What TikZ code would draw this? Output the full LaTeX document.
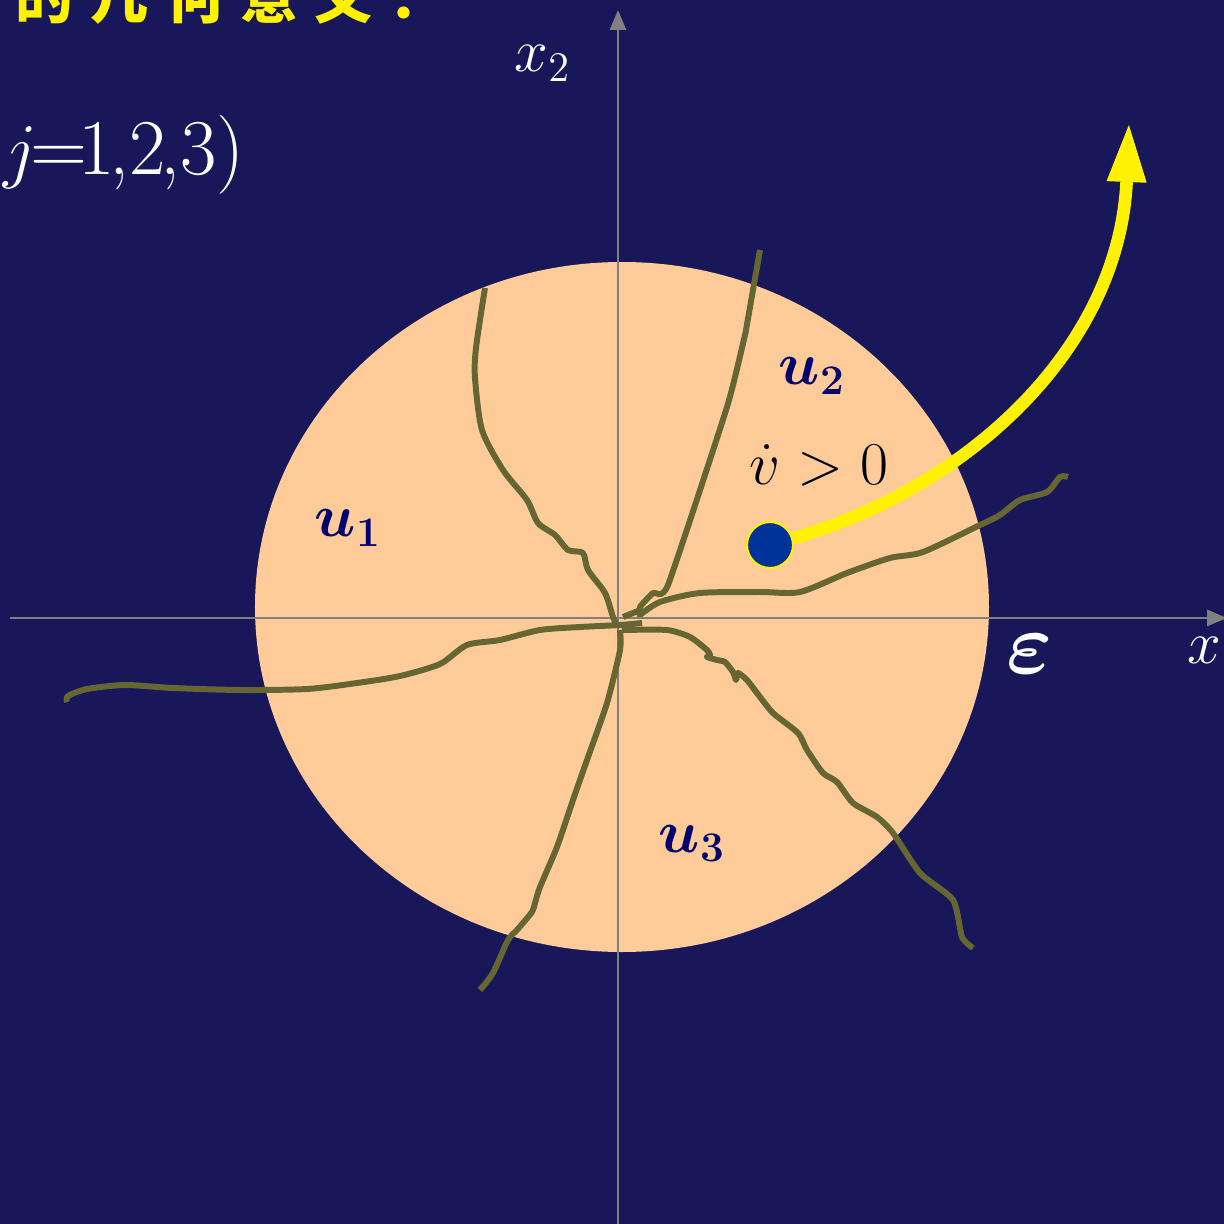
\documentclass[tikz,border=0pt]{standalone}
\usepackage{fontspec}
\usepackage{bm}
\newfontfamily\cjk{Noto Sans CJK SC}[LetterSpace=29]
\definecolor{slidebg}{RGB}{23,23,90}
\definecolor{peach}{RGB}{255,204,153}
\definecolor{trajolive}{RGB}{102,102,51}
\definecolor{labnavy}{RGB}{0,0,110}
\definecolor{dotblue}{RGB}{0,51,153}
\usetikzlibrary{arrows.meta}
\tikzset{
	axisline/.style={draw=gray, line width=0.8pt, -{Triangle[length=2mm, width=1.6mm]}},
	traj/.style={draw=trajolive, line width=1.7pt, line join=round},
	ulabel/.style={text=labnavy, font=\fontsize{17}{20}\selectfont, inner sep=0pt, anchor=base west},
	axlabel/.style={text=white, font=\fontsize{17}{20}\selectfont, inner sep=0pt, anchor=base west},
	flowarrow/.style={draw=yellow, line width=3.6pt, -{Triangle[length=6mm, width=3.6mm]}},
	statedot/.style={circle, fill=dotblue, draw=yellow, line width=0.6pt, minimum size=4.6mm, inner sep=0pt},
}

\begin{document}
\begin{tikzpicture}
	% slide background and region
	\fill[slidebg] (-6.18,-6.06) rectangle (6.06,6.18);
	\useasboundingbox (-6.18,-6.06) rectangle (6.06,6.18);
	\fill[peach] (0.04,0.11) ellipse [x radius=3.67cm, y radius=3.45cm];

	% axes
	\coordinate (xstart) at (-6.08,0);
	\coordinate (xend) at (6.09,0);
	\coordinate (ystart) at (0,-6.10);
	\coordinate (yend) at (0,6.08);
	\draw[axisline] (xstart) -- (xend);
	\draw[axisline] (ystart) -- (yend);

	% trajectories
	\draw[traj] plot[smooth, tension=0.45] coordinates {(-1.33,3.30) (-1.42,2.70) (-1.43,2.40) (-1.36,1.88) (-1.15,1.48) (-0.91,1.18) (-0.80,0.95) (-0.63,0.83) (-0.50,0.68) (-0.35,0.65) (-0.30,0.48) (-0.13,0.25) (-0.05,0.01) (0,-0.09)};
	\draw[traj] plot[smooth, tension=0.3] coordinates {(1.42,3.68) (1.28,2.88) (1.27,2.83) (1.09,2.11) (0.50,0.33) (0.35,0.25) (0.22,0.11) (0.22,0.01)};
	\draw[traj] (0.05,0.01) -- (0.20,0.07);
	\draw[traj] plot[smooth, tension=0.45] coordinates {(0.22,0.03) (0.42,0.16) (0.82,0.25) (1.42,0.26) (1.82,0.26) (2.29,0.45) (2.72,0.60) (3.05,0.66) (3.62,0.93) (3.82,1.03) (4.02,1.18) (4.29,1.26) (4.42,1.41) (4.50,1.41)};
	\draw[traj] plot[smooth, tension=0.45] coordinates {(-5.51,-0.84) (-5.50,-0.78) (-5.31,-0.71) (-4.93,-0.67) (-4.45,-0.70) (-3.78,-0.72) (-3.11,-0.71) (-2.61,-0.65) (-2.18,-0.58) (-1.78,-0.46) (-1.51,-0.27) (-1.18,-0.22) (-0.78,-0.12) (-0.38,-0.09) (0.02,-0.07) (0.24,-0.05)};
	\draw[traj] plot[smooth, tension=0.4] coordinates {(0.02,-0.12) (0.02,-0.32) (-0.11,-0.85) (-0.31,-1.42) (-0.45,-1.82) (-0.61,-2.29) (-0.78,-2.69) (-0.83,-2.85) (-0.86,-2.94) (-1.01,-3.12) (-1.10,-3.22) (-1.25,-3.55) (-1.38,-3.72)};
	\draw[traj] plot[smooth, tension=0.4] coordinates {(0.04,-0.12) (0.49,-0.12) (0.72,-0.19) (0.89,-0.32) (0.92,-0.37) (0.89,-0.39) (0.99,-0.42) (1.07,-0.44) (1.15,-0.54) (1.18,-0.62) (1.20,-0.55) (1.29,-0.62) (1.39,-0.75) (1.55,-0.95) (1.80,-1.15) (1.89,-1.32) (2.05,-1.55) (2.19,-1.64) (2.35,-1.85) (2.59,-1.99) (2.75,-2.15) (3.02,-2.55) (3.35,-2.82) (3.44,-3.19) (3.55,-3.30)};

	% labels
	\node[text=yellow, font=\cjk\bfseries\fontsize{16.5}{20}\selectfont, inner sep=0pt, anchor=base west] (title) at (-6.03,5.99) {的几何意义：};
	\node[text=white, font=\fontsize{22.5}{27}\selectfont, inner sep=0pt, anchor=base east] (jrange) at (-3.73,4.43) {($j$\kern-2pt=\kern-2.5pt1\kern-1.5pt,2\kern-1.5pt,3)};
	\node[axlabel] (xtwo) at (-1.04,5.46) {$x_2$};
	\node[axlabel] (xone) at (5.69,-0.45) {$x_1$};
	\node[text=white, font=\fontsize{30}{34}\selectfont, inner sep=0pt] (eps) at (4.12,-0.36) {$\bm{\varepsilon}$};
	\node[ulabel] (uone) at (-3.04,0.81) {$\bm{u_1}$};
	\node[ulabel] (utwo) at (1.60,2.33) {$\bm{u_2}$};
	\node[ulabel] (uthree) at (0.40,-2.34) {$\bm{u_3}$};
	\node[text=black, font=\fontsize{17}{20}\selectfont, inner sep=0pt, anchor=base west] (vdot) at (1.31,1.33) {$\dot{v}>0$};

	% state and its escape
	\node[statedot] (pt) at (1.52,0.73) {};
	\coordinate (tip) at (5.11,4.96);
	\draw[flowarrow] (pt) .. controls (3.50,1.30) and (5.02,2.70) .. (tip);
\end{tikzpicture}
\end{document}
